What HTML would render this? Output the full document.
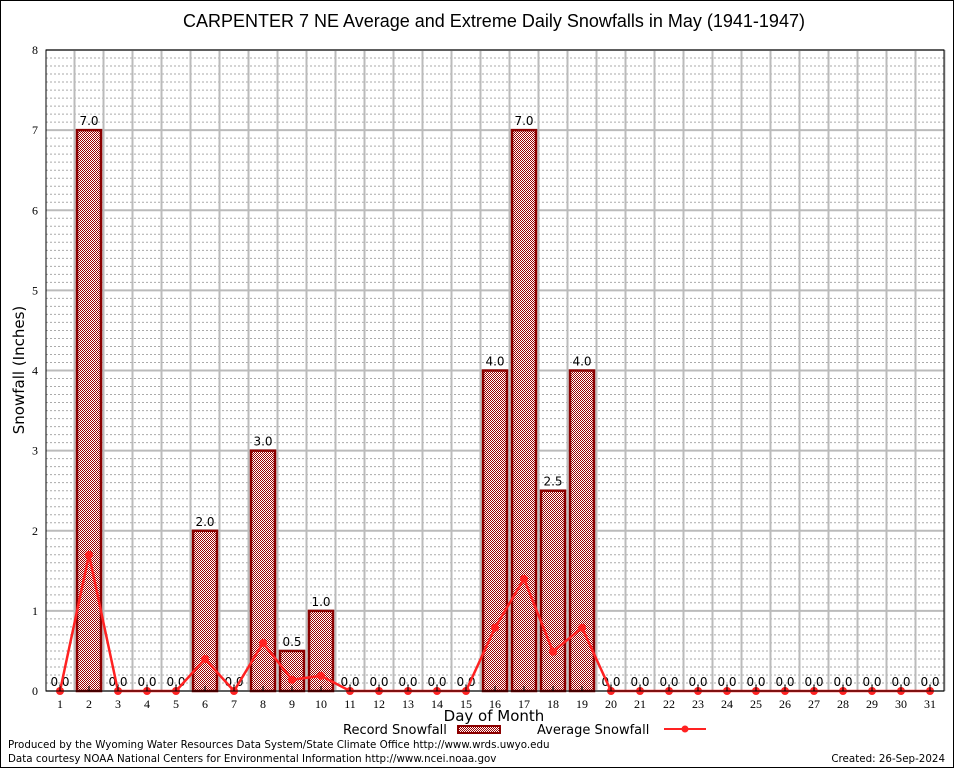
<!DOCTYPE html>
<html><head><meta charset="utf-8"><style>
body{margin:0;background:#fff;}
svg{display:block;font-family:"DejaVu Sans","Liberation Sans",sans-serif;}
</style></head><body>
<svg id="c" width="954" height="768">
<defs>
<pattern id="chk" width="2" height="2" patternUnits="userSpaceOnUse">
<rect width="2" height="2" fill="#fff"/><rect width="1" height="1" fill="#9b0000"/><rect x="1" y="1" width="1" height="1" fill="#9b0000"/>
</pattern>
</defs>
<rect x="0.5" y="0.5" width="953" height="767" fill="#fff" stroke="#000"/>
<text x="494" y="27" font-size="18" text-anchor="middle" font-family="Liberation Sans, sans-serif">CARPENTER 7 NE Average and Extreme Daily Snowfalls in May (1941-1947)</text>
<g id="grid"></g><g id="bars"></g><g id="line"></g><g id="axes"></g>
<text x="24" y="370" font-size="15" text-anchor="middle" transform="rotate(-90 24 370)">Snowfall (Inches)</text>
<text x="494" y="721" font-size="15" text-anchor="middle">Day of Month</text>
<g>
<text x="343" y="734" font-size="13">Record Snowfall</text>
<rect x="458" y="726" width="42" height="7" fill="url(#chk)" stroke="#8b0000" stroke-width="2"/>
<text x="537" y="734" font-size="13">Average Snowfall</text>
<line x1="664" y1="729" x2="706" y2="729" stroke="#f22" stroke-width="2"/>
<circle cx="685" cy="729" r="3.5" fill="#f22"/>
</g>
<text x="8" y="748" font-size="10.3">Produced by the Wyoming Water Resources Data System/State Climate Office http://www.wrds.uwyo.edu</text>
<text x="8" y="762" font-size="10.3">Data courtesy NOAA National Centers for Environmental Information http://www.ncei.noaa.gov</text>
<text x="945" y="762" font-size="10.3" text-anchor="end">Created: 26-Sep-2024</text>
</svg>
<script>
const days=[1,2,3,4,5,6,7,8,9,10,11,12,13,14,15,16,17,18,19,20,21,22,23,24,25,26,27,28,29,30,31];
const recordSnow=[0,7,0,0,0,2,0,3,0.5,1,0,0,0,0,0,4,7,2.5,4,0,0,0,0,0,0,0,0,0,0,0,0];
const avgSnow=[0,1.7,0,0,0,0.4,0,0.6,0.14,0.19,0,0,0,0,0,0.79,1.4,0.49,0.79,0,0,0,0,0,0,0,0,0,0,0,0];
const yTicks=[0,1,2,3,4,5,6,7,8];
const L=46,R=944,T=50,B=691,band=29;
const x=d=>L+14+(d-1)*band;
const y=v=>B-(v/8)*(B-T);
const NS="http://www.w3.org/2000/svg";
function mk(p,tag,a){const e=document.createElementNS(NS,tag);for(const k in a)e.setAttribute(k,a[k]);p.appendChild(e);return e;}
const grid=document.getElementById('grid'),bars=document.getElementById('bars'),line=document.getElementById('line'),axes=document.getElementById('axes');
for(let i=1;i<80;i++){if(i%10===0)continue;const g=mk(grid,'line',{x1:L,x2:R,y1:y(i/10),y2:y(i/10),stroke:'#aaa','stroke-dasharray':'2,2','stroke-width':1});

}
yTicks.forEach(t=>{const g=mk(grid,'line',{x1:L,x2:R,y1:y(t),y2:y(t),stroke:'#bbb','stroke-width':2});


const tx=mk(axes,'text',{x:L-8,y:y(t)+4,'font-size':12,'text-anchor':'end','font-family':'Liberation Serif, serif'});tx.textContent=t;

});
days.forEach(d=>{const v=mk(grid,'line',{x1:x(d)+14.5,x2:x(d)+14.5,y1:T,y2:B,stroke:'#bbb','stroke-width':2});

});
days.forEach((d,i)=>{const val=recordSnow[i];
if(val>0){const r=mk(bars,'rect',{x:x(d)-12,y:y(val),width:24,height:B-y(val),fill:'url(#chk)',stroke:'#8b0000','stroke-width':2.5});

}
const t=mk(bars,'text',{x:x(d),y:y(val)-5,'font-size':12,'text-anchor':'middle'});t.textContent=val.toFixed(1);


const tk=mk(axes,'text',{x:x(d),y:B+17,'font-size':12,'text-anchor':'middle','font-family':'Liberation Serif, serif'});tk.textContent=d;


const tm=mk(axes,'line',{x1:x(d),x2:x(d),y1:B,y2:B-5,stroke:'#000'});

});
const pl=mk(line,'polyline',{points:days.map((d,i)=>x(d)+','+y(avgSnow[i])).join(' '),fill:'none',stroke:'#f22','stroke-width':2.5});


days.forEach((d,i)=>{const c=mk(line,'circle',{cx:x(d),cy:y(avgSnow[i]),r:4,fill:'#f22'});

});
const fr=mk(axes,'rect',{x:L,y:T,width:R-L,height:B-T,fill:'none',stroke:'#000','stroke-width':1});


</script>
</body></html>
